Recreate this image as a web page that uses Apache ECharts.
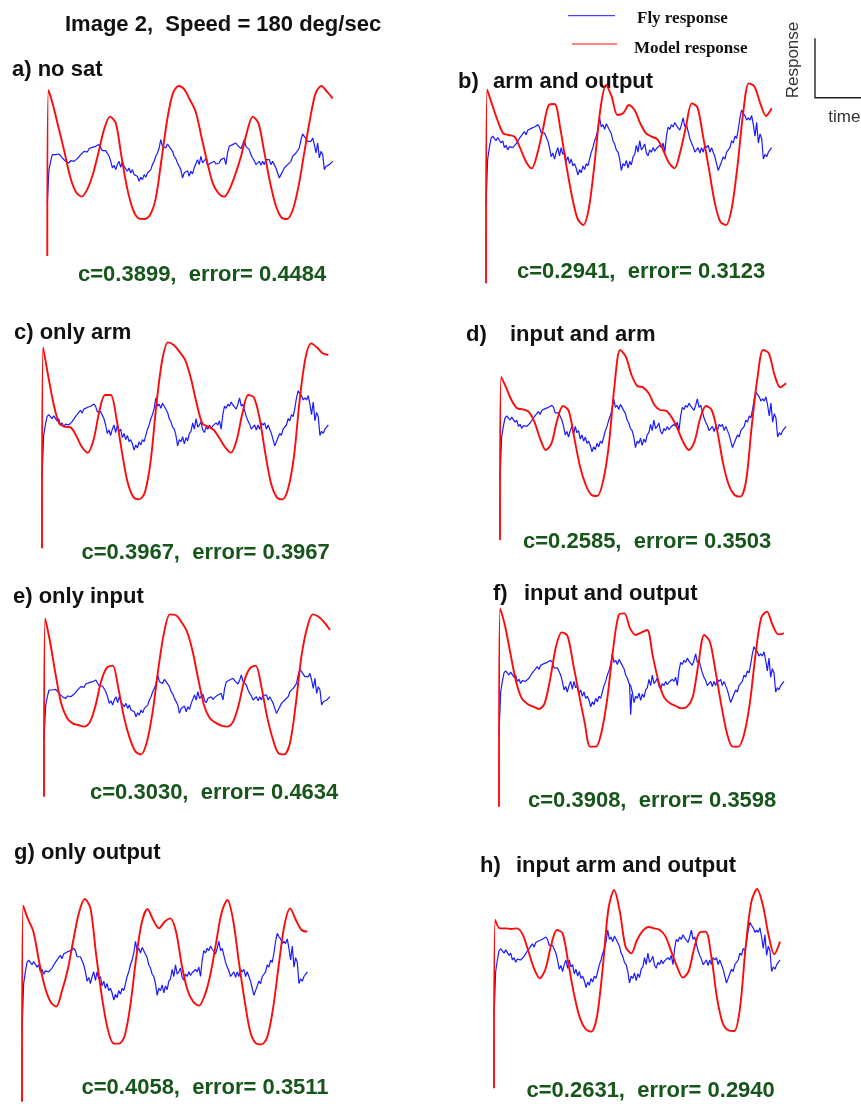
<!DOCTYPE html>
<html>
<head>
<meta charset="utf-8">
<script src="https://cdn.jsdelivr.net/npm/echarts@6/dist/echarts.min.js"></script>
<style>
  html, body { margin: 0; padding: 0; background: #ffffff; }
  #chart { width: 861px; height: 1104px; }
</style>
</head>
<body>
<div id="chart"></div>
<script>
// Time base of the recordings (arbitrary units, 0 = stimulus onset, 100 = end of trace)
const modelTime = [0, 0.4, 2, 4, 6, 8, 10, 12, 14, 16, 18, 20, 22, 24, 26, 28, 30, 32, 34, 36, 38, 40,
  42, 44, 46, 48, 50, 52, 54, 56, 58, 60, 62, 64, 66, 68, 70, 72, 74, 76, 78, 80,
  82, 84, 86, 88, 90, 92, 94, 96, 98, 100];

// Measured fly response (same recording shown in every panel), uniform sampling over 0..100
const flyResponse = [
  -1.25, -0.25, 0.00, 0.20, 0.25, 0.20, 0.15, 0.22, 0.25, 0.10,
  0.15, 0.00, 0.05, -0.05, 0.02, -0.02, 0.00, -0.03, 0.08, 0.05,
  0.20, 0.18, 0.30, 0.35, 0.28, 0.38, 0.35, 0.42, 0.38, 0.45,
  0.42, 0.50, 0.45, 0.32, 0.28, 0.32, 0.28, 0.15, 0.00, -0.20,
  -0.12, -0.25, -0.10, 0.00, -0.18, 0.00, -0.15, -0.10, -0.30, -0.20,
  -0.35, -0.25, -0.40, -0.35, -0.45, -0.60, -0.48, -0.55, -0.40, -0.48,
  -0.35, -0.40, -0.25, -0.10, 0.00, 0.15, 0.25, 0.40, 0.65, 0.45,
  0.50, 0.40, 0.52, 0.45, 0.48, 0.30, 0.15, 0.08, -0.05, -0.10,
  -0.25, -0.50, -0.35, -0.40, -0.28, -0.45, -0.30, -0.38, -0.20, -0.15,
  0.05, -0.10, 0.15, -0.05, 0.00, 0.08, -0.12, -0.18, -0.05, -0.10,
  0.00, -0.08, -0.02, -0.05, 0.05, 0.00, 0.10, -0.10, 0.25, 0.45,
  0.40, 0.50, 0.45, 0.55, 0.48, 0.45, 0.38, 0.50, 0.65, 0.45,
  0.50, 0.35, 0.20, 0.10, 0.02, -0.10, -0.05, 0.00, -0.12, 0.00,
  -0.10, 0.05, 0.00, 0.05, -0.10, 0.00, -0.10, -0.20, -0.35, -0.50,
  -0.40, -0.30, -0.20, -0.25, -0.10, -0.12, 0.00, 0.15, 0.10, 0.25,
  0.20, 0.40, 0.65, 0.82, 0.75, 0.70, 0.60, 0.65, 0.60, 0.70,
  0.50, 0.25, 0.55, 0.10, 0.30, 0.20, -0.25, -0.15, -0.20, -0.10,
  -0.05, 0.00
];

// Brief dropout in the fly trace of panel f: [time, response]
const flyDropoutF = [[45.8, -0.05], [46.2, -0.79], [46.6, -0.30]];

// Model responses for each saturation variant, sampled at modelTime
const modelNoSat = [-2.98, 2.00, 1.55, 0.85, 0.15, -0.60, -1.05, -1.20, -0.98, -0.52, 0.15, 0.85, 1.20, 1.00,
  0.00, -0.95, -1.58, -1.85, -1.87, -1.75, -1.25, -0.10, 1.10, 1.90, 2.12, 2.02, 1.70, 1.35, 0.60, -0.15,
  -0.80, -1.10, -1.20, -0.95, -0.50, 0.05, 0.75, 1.20, 1.00, 0.15, -0.75, -1.45, -1.82, -1.87, -1.60,
  -0.90, 0.10, 1.10, 1.90, 2.12, 1.95, 1.75];
const modelArmOutput = [-3.80, 2.02, 1.60, 1.10, 0.70, 0.65, 0.60, 0.25, -0.15, -0.35, 0.10, 0.85, 1.55, 1.58,
  0.85, -0.20, -1.15, -1.85, -2.05, -1.55, -0.20, 1.40, 2.15, 1.80, 1.25, 1.30, 1.55, 1.40, 1.00, 0.70,
  0.60, 0.52, 0.20, -0.18, -0.35, 0.15, 0.90, 1.60, 1.48, 0.60, -0.35, -1.35, -1.95, -2.05, -1.55,
  -0.30, 1.30, 2.20, 2.10, 1.60, 1.22, 1.45];
const modelOnlyArm = [-3.75, 2.28, 1.50, 0.60, 0.00, -0.10, -0.12, -0.38, -0.72, -0.88, -0.50, 0.35, 0.85, 0.85,
  0.15, -0.90, -1.80, -2.22, -2.28, -2.05, -1.10, 0.60, 1.90, 2.43, 2.35, 2.15, 1.90, 1.35, 0.60, 0.00,
  -0.10, -0.20, -0.45, -0.72, -0.88, -0.50, 0.30, 0.85, 0.78, 0.15, -0.90, -1.80, -2.22, -2.28, -1.95,
  -1.00, 0.70, 1.95, 2.40, 2.28, 2.10, 2.05];
const modelInputArm = [-3.50, 1.40, 1.10, 0.70, 0.45, 0.42, 0.35, 0.05, -0.45, -0.80, -0.60, 0.10, 0.52, 0.38,
  -0.45, -1.30, -1.85, -2.15, -2.18, -1.75, -0.70, 1.10, 2.20, 2.00, 1.45, 1.12, 1.08, 0.90, 0.55, 0.40,
  0.38, 0.18, -0.15, -0.55, -0.80, -0.55, 0.15, 0.52, 0.40, -0.25, -1.20, -1.85, -2.15, -2.20, -1.75,
  -0.10, 1.35, 2.20, 2.10, 1.45, 1.08, 1.20];
const modelOnlyInput = [-3.25, 2.10, 1.45, 0.45, -0.45, -0.88, -1.05, -1.10, -1.15, -1.02, -0.52, 0.22, 0.62, 0.68,
  0.00, -0.88, -1.50, -1.90, -1.98, -1.60, -0.70, 0.60, 1.68, 2.22, 2.20, 2.00, 1.70, 1.10, 0.25, -0.52,
  -0.90, -1.03, -1.12, -1.15, -1.02, -0.52, 0.22, 0.60, 0.68, 0.05, -0.85, -1.52, -1.95, -1.98, -1.65,
  -0.50, 0.95, 1.82, 2.22, 2.15, 1.98, 1.75];
const modelInputOutput = [-3.55, 2.40, 1.92, 1.05, 0.20, -0.30, -0.47, -0.55, -0.62, -0.45, 0.30, 1.25, 1.68, 1.58,
  0.75, -0.15, -1.00, -1.75, -1.75, -1.30, -0.30, 1.15, 2.20, 2.25, 1.80, 1.60, 1.68, 1.75, 0.95, 0.20,
  -0.28, -0.45, -0.53, -0.60, -0.55, -0.25, 0.75, 1.60, 1.40, 0.50, -0.50, -1.35, -1.75, -1.75, -1.38,
  -0.45, 1.00, 2.12, 2.30, 1.90, 1.62, 1.65];
const modelOnlyOutput = [-4.00, 1.88, 1.50, 1.10, 0.20, -0.55, -1.00, -1.15, -0.68, -0.05, 0.85, 1.68, 2.08, 1.80,
  0.40, -0.85, -1.80, -2.25, -2.26, -2.02, -1.10, 0.30, 1.38, 1.78, 1.45, 1.20, 1.40, 1.50, 1.10, 0.10,
  -0.65, -1.00, -1.12, -0.82, -0.20, 0.75, 1.68, 2.05, 1.45, 0.20, -0.95, -1.90, -2.25, -2.28, -2.05,
  -1.20, 0.10, 1.30, 1.80, 1.45, 1.15, 1.10];
const modelInputArmOutput = [-3.60, 1.45, 1.20, 1.20, 1.18, 1.20, 1.02, 0.52, 0.00, -0.30, -0.02, 0.70, 1.15, 1.05,
  0.15, -0.78, -1.48, -1.82, -1.90, -1.45, 0.00, 1.78, 2.35, 1.70, 0.65, 0.45, 0.85, 1.12, 1.24, 1.20,
  1.15, 0.95, 0.50, 0.05, -0.28, -0.10, 0.60, 1.08, 1.10, 0.35, -0.90, -1.65, -1.86, -1.88, -1.20,
  0.65, 2.00, 2.38, 1.90, 1.00, 0.42, 0.80];

// Panel captions
const panelTags = ['a)', 'b)', 'c)', 'd)', 'e)', 'f)', 'g)', 'h)'];
const panelNames = ['no sat', 'arm and output', 'only arm', 'input and arm',
  'only input', 'input and output', 'only output', 'input arm and output'];
const corrValues = ['0.3899', '0.2941', '0.3967', '0.2585', '0.3030', '0.3908', '0.4058', '0.2631'];
const errorValues = ['0.4484', '0.3123', '0.3967', '0.3503', '0.4634', '0.3598', '0.3511', '0.2940'];

const modelSeries = [modelNoSat, modelArmOutput, modelOnlyArm, modelInputArm,
  modelOnlyInput, modelInputOutput, modelOnlyOutput, modelInputArmOutput];

// Page layout of the eight panels (pixels). redZero / flyZero: vertical pixel of a zero
// response, scales: pixels per response unit.
const RED_SCALE = 33.333;
const layout = [
  { left: 47.3, width: 285.4, top: 80,  bottom: 262,  redZero: 156.67, flyZero: 161.3, flyScale: 33.3,
    tagX: 12, nameX: null, capY: 70, statX: 78, statY: 275 },
  { left: 486,  width: 285.7, top: 78,  bottom: 288,  redZero: 156.67, flyZero: 147.6, flyScale: 45.8,
    tagX: 458, nameX: 493, capY: 81.5, statX: 517, statY: 271.5 },
  { left: 42,   width: 286.3, top: 336, bottom: 552,  redZero: 423.33, flyZero: 425.0, flyScale: 41.8,
    tagX: 14, nameX: null, capY: 333, statX: 81.5, statY: 553 },
  { left: 500,  width: 286,   top: 340, bottom: 545,  redZero: 423.33, flyZero: 426.4, flyScale: 42.3,
    tagX: 466, nameX: 510, capY: 335, statX: 523, statY: 541.5 },
  { left: 44,   width: 286,   top: 605, bottom: 800,  redZero: 688.33, flyZero: 696.7, flyScale: 33.4,
    tagX: 13, nameX: null, capY: 596.5, statX: 90, statY: 793 },
  { left: 499,  width: 285,   top: 603, bottom: 810,  redZero: 688.33, flyZero: 681.4, flyScale: 42.3,
    tagX: 493, nameX: 524, capY: 594, statX: 528, statY: 800.5 },
  { left: 22,   width: 285.3, top: 893, bottom: 1103, redZero: 968.33, flyZero: 971.8, flyScale: 47.0,
    tagX: 14, nameX: null, capY: 853, statX: 81.5, statY: 1088 },
  { left: 494,  width: 286,   top: 882, bottom: 1092, redZero: 968.33, flyZero: 960.0, flyScale: 46.0,
    tagX: 480, nameX: 516, capY: 865.5, statX: 526.5, statY: 1091 }
];

const FLY_COLOR = '#1a1aff';
const MODEL_COLOR = '#ff0a0a';
const STAT_COLOR = '#17561a';
const SANS = '"Liberation Sans", Arial, Helvetica, sans-serif';
const SERIF = '"Liberation Serif", "Times New Roman", serif';

const flyStep = 100 / (flyResponse.length - 1);
const flyData = flyResponse.map((v, i) => [i * flyStep, v]);

const grid = [], xAxis = [], yAxis = [], series = [], graphic = [];

layout.forEach((p, k) => {
  grid.push({ left: p.left, top: p.top, width: p.width, height: p.bottom - p.top, show: false });
  xAxis.push({ type: 'value', gridIndex: k, min: 0, max: 100, show: false });
  yAxis.push({ type: 'value', gridIndex: k, show: false,
    min: (p.redZero - p.bottom) / RED_SCALE, max: (p.redZero - p.top) / RED_SCALE });
  yAxis.push({ type: 'value', gridIndex: k, show: false,
    min: (p.flyZero - p.bottom) / p.flyScale, max: (p.flyZero - p.top) / p.flyScale });

  series.push({
    name: 'Fly response', type: 'line', xAxisIndex: k, yAxisIndex: 2 * k + 1,
    data: flyData, showSymbol: false, smooth: false, clip: false,
    lineStyle: { color: FLY_COLOR, width: 1.2 }, z: 2
  });
  if (k === 5) {
    series.push({
      name: 'Fly response', type: 'line', xAxisIndex: k, yAxisIndex: 2 * k + 1,
      data: flyDropoutF, showSymbol: false, clip: false,
      lineStyle: { color: FLY_COLOR, width: 1.2 }, z: 2
    });
  }
  series.push({
    name: 'Model response', type: 'line', xAxisIndex: k, yAxisIndex: 2 * k,
    data: modelTime.map((t, i) => [t, modelSeries[k][i]]),
    showSymbol: false, smooth: 0.3, clip: false,
    lineStyle: { color: MODEL_COLOR, width: 1.9 }, z: 3
  });

  // Panel caption
  const capStyle = { fill: '#111', font: 'bold 22px ' + SANS, textVerticalAlign: 'middle' };
  if (p.nameX === null) {
    graphic.push({ type: 'text', x: p.tagX, y: p.capY,
      style: Object.assign({ text: panelTags[k] + ' ' + panelNames[k] }, capStyle) });
  } else {
    graphic.push({ type: 'text', x: p.tagX, y: p.capY,
      style: Object.assign({ text: panelTags[k] }, capStyle) });
    graphic.push({ type: 'text', x: p.nameX, y: p.capY,
      style: Object.assign({ text: panelNames[k] }, capStyle) });
  }
  // Fit statistics
  graphic.push({ type: 'text', x: p.statX, y: p.statY,
    style: { text: 'c=' + corrValues[k] + ',  error= ' + errorValues[k],
      fill: STAT_COLOR, font: 'bold 22px ' + SANS, textVerticalAlign: 'middle' } });
});

// Title
graphic.push({ type: 'text', x: 65, y: 25,
  style: { text: 'Image 2,  Speed = 180 deg/sec', fill: '#111', font: 'bold 22px ' + SANS,
    textVerticalAlign: 'middle' } });

// Legend
graphic.push({ type: 'line', shape: { x1: 568, y1: 15.7, x2: 615, y2: 15.7 },
  style: { stroke: FLY_COLOR, lineWidth: 1 } });
graphic.push({ type: 'line', shape: { x1: 572, y1: 44, x2: 617, y2: 44 },
  style: { stroke: MODEL_COLOR, lineWidth: 1 } });
graphic.push({ type: 'text', x: 637, y: 18.3,
  style: { text: 'Fly response', fill: '#111', font: 'bold 17px ' + SERIF, textVerticalAlign: 'middle' } });
graphic.push({ type: 'text', x: 634, y: 49,
  style: { text: 'Model response', fill: '#111', font: 'bold 17px ' + SERIF, textVerticalAlign: 'middle' } });

// Scale bar
graphic.push({ type: 'polyline', shape: { points: [[815, 38.3], [815, 97.7], [861, 97.7]] },
  style: { stroke: '#222', lineWidth: 1.4, fill: null } });
graphic.push({ type: 'text', x: 793.3, y: 60, rotation: Math.PI / 2,
  style: { text: 'Response', fill: '#333', font: '17px ' + SANS,
    textAlign: 'center', textVerticalAlign: 'middle' } });
graphic.push({ type: 'text', x: 828.3, y: 117.3,
  style: { text: 'time', fill: '#333', font: '17px ' + SANS, textVerticalAlign: 'middle' } });

const chart = echarts.init(document.getElementById('chart'), null, { renderer: 'canvas' });
chart.setOption({
  animation: false,
  backgroundColor: '#ffffff',
  grid: grid,
  xAxis: xAxis,
  yAxis: yAxis,
  series: series,
  graphic: graphic
});
</script>
</body>
</html>
